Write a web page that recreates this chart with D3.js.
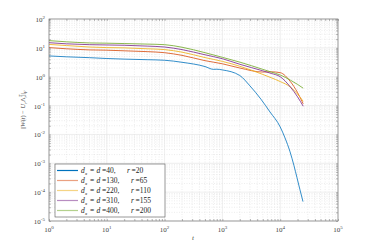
<!DOCTYPE html>
<html>
<head>
<meta charset="utf-8">
<script src="https://cdn.jsdelivr.net/npm/d3@7"></script>
<style>
  body { margin: 0; background: #fff; }
  svg text { font-family: "Liberation Serif", "DejaVu Serif", serif; }
</style>
</head>
<body>
<div id="chart"></div>
<script>
// time grid shared by the four upper curves
const tGrid = [1, 2, 5, 10, 20, 50, 100, 200, 500, 1000, 2000, 5000, 7000, 10000, 15000, 20000, 25000];
const errGreen  = [17.8, 16.2, 14.8, 14.5, 14.1, 13.5, 12.9, 10.5, 6.8, 4.7, 3.2, 1.8, 1.45, 1.15, 0.76, 0.54, 0.40];
const errPurple = [15.1, 13.8, 12.9, 12.6, 12.3, 11.5, 10.7, 8.7, 5.75, 4.2, 2.7, 1.6, 1.3, 1.0, 0.44, 0.20, 0.095];
const errYellow = [13.2, 12.0, 10.7, 10.2, 10.0, 9.3, 8.7, 7.1, 4.6, 3.4, 2.3, 1.2, 0.92, 0.68, 0.44, 0.25, 0.14];
const errOrange = [10.2, 9.3, 8.5, 8.3, 7.9, 7.4, 6.8, 5.5, 3.6, 2.8, 2.0, 1.45, 1.48, 1.38, 0.68, 0.28, 0.115];

// blue curve has its own time points
const tBlue   = [1, 2, 5, 10, 20, 50, 100, 200, 500, 700, 800, 1000, 2000, 3000, 4650, 6660, 10000, 12100, 14800, 17300, 19500, 22000, 24800];
const errBlue = [5.25, 4.9, 4.57, 4.27, 4.07, 3.89, 3.72, 3.16, 2.25, 1.8, 1.82, 1.72, 1.1, 0.48, 0.166, 0.060, 0.0182, 0.0076, 0.0025, 8.3e-4, 3.2e-4, 1.2e-4, 4.7e-5];

const dxVals = [40, 130, 220, 310, 400];
const rVals  = [20, 65, 110, 155, 200];
const colors = ["#0072BD", "#D95319", "#EDB120", "#7E2F8E", "#77AC30"];

const xTicks = [1, 10, 100, 1000, 10000, 100000];
const yTicks = [1e-5, 1e-4, 1e-3, 1e-2, 1e-1, 1, 10, 100];

const width = 374, height = 249;
const series = [
  { t: tBlue, v: errBlue },
  { t: tGrid, v: errOrange },
  { t: tGrid, v: errYellow },
  { t: tGrid, v: errPurple },
  { t: tGrid, v: errGreen }
];

const svg = d3.select("#chart").append("svg")
  .attr("width", width).attr("height", height);

const x = d3.scaleLog().domain([1, 1e5]).range([49, 338]);
const y = d3.scaleLog().domain([1e-5, 1e2]).range([221, 19]);

// minor values inside each decade
let minorX = [], minorY = [];
for (let e = 0; e < 5; e++) for (let k = 2; k < 10; k++) minorX.push(k * Math.pow(10, e));
for (let e = -5; e < 2; e++) for (let k = 2; k < 10; k++) minorY.push(k * Math.pow(10, e));

const grid = svg.append("g");
grid.selectAll(".mx").data(minorX).join("line")
  .attr("x1", d => x(d)).attr("x2", d => x(d)).attr("y1", 19).attr("y2", 221)
  .attr("stroke", "#dadada").attr("stroke-width", 0.5).attr("stroke-dasharray", "1,1.5");
grid.selectAll(".my").data(minorY).join("line")
  .attr("y1", d => y(d)).attr("y2", d => y(d)).attr("x1", 49).attr("x2", 338)
  .attr("stroke", "#dadada").attr("stroke-width", 0.5).attr("stroke-dasharray", "1,1.5");
grid.selectAll(".Mx").data(xTicks).join("line")
  .attr("x1", d => x(d)).attr("x2", d => x(d)).attr("y1", 19).attr("y2", 221)
  .attr("stroke", "#e2e2e2").attr("stroke-width", 0.6);
grid.selectAll(".My").data(yTicks).join("line")
  .attr("y1", d => y(d)).attr("y2", d => y(d)).attr("x1", 49).attr("x2", 338)
  .attr("stroke", "#e2e2e2").attr("stroke-width", 0.6);

// curves
const line = d3.line().x(d => x(d[0])).y(d => y(d[1])).curve(d3.curveMonotoneX);
series.forEach((s, i) => {
  svg.append("path")
    .datum(s.t.map((t, j) => [t, s.v[j]]))
    .attr("d", line)
    .attr("fill", "none")
    .attr("stroke", colors[i])
    .attr("stroke-opacity", i == 0 ? 0.8 : 0.85)
    .attr("stroke-width", 1);
});

// axes, MATLAB-like: inward ticks on all sides, no domain path
const axisCol = "#7a7a7a";
function styleAxis(g) {
  g.select(".domain").remove();
  g.selectAll("line").attr("stroke", axisCol).attr("stroke-width", 0.5);
  g.selectAll("text").remove();
}
svg.append("g").attr("transform", "translate(0,221)")
  .call(d3.axisBottom(x).tickValues(xTicks.concat(minorX)).tickSize(-2)).call(styleAxis);
svg.append("g").attr("transform", "translate(0,19)")
  .call(d3.axisTop(x).tickValues(xTicks.concat(minorX)).tickSize(-2)).call(styleAxis);
svg.append("g").attr("transform", "translate(49,0)")
  .call(d3.axisLeft(y).tickValues(yTicks.concat(minorY)).tickSize(-2)).call(styleAxis);
svg.append("g").attr("transform", "translate(338,0)")
  .call(d3.axisRight(y).tickValues(yTicks.concat(minorY)).tickSize(-2)).call(styleAxis);

svg.append("rect").attr("x", 49).attr("y", 19).attr("width", 289).attr("height", 202)
  .attr("fill", "none").attr("stroke", axisCol).attr("stroke-width", 0.7);

// tick labels 10^k
const exp = d => Math.round(Math.log10(d));
const xl = svg.append("g").selectAll("text").data(xTicks).join("text")
  .attr("x", d => x(d)).attr("y", 232)
  .attr("text-anchor", "middle").attr("font-size", 7).attr("fill", "#444");
xl.append("tspan").text("10");
xl.append("tspan").attr("font-size", 5).attr("dy", -3).text(d => exp(d));

const yl = svg.append("g").selectAll("text").data(yTicks).join("text")
  .attr("x", 45).attr("y", d => y(d) + 3)
  .attr("text-anchor", "end").attr("font-size", 7).attr("fill", "#444");
yl.append("tspan").text("10");
yl.append("tspan").attr("font-size", 5).attr("dy", -3).text(d => exp(d) < 0 ? "-" + (-exp(d)) : exp(d));

// axis labels
svg.append("text").attr("x", 193).attr("y", 240).attr("text-anchor", "middle")
  .attr("font-size", 7).attr("font-style", "italic").attr("fill", "#444").text("t");

const ylab = svg.append("text")
  .attr("transform", "translate(25,110) rotate(-90)")
  .attr("text-anchor", "middle").attr("font-size", 6.5).attr("fill", "#444");
ylab.append("tspan").text("||");
ylab.append("tspan").attr("font-style", "italic").text("W");
ylab.append("tspan").text("(");
ylab.append("tspan").attr("font-style", "italic").text("t");
ylab.append("tspan").text(") \u2212 ");
ylab.append("tspan").attr("font-style", "italic").text("U");
ylab.append("tspan").attr("font-style", "italic").attr("font-size", 4.5).attr("dy", 1.5).text("r");
ylab.append("tspan").attr("dy", -1.5).text("\u039B");
ylab.append("tspan").attr("font-style", "italic").attr("font-size", 4.5).attr("dy", -3).text("T");
ylab.append("tspan").attr("font-style", "italic").attr("font-size", 4.5).attr("dx", -2.5).attr("dy", 4.5).text("r");
ylab.append("tspan").attr("dy", -1.5).text("||");
ylab.append("tspan").attr("font-style", "italic").attr("font-size", 4.5).attr("dy", 1.5).text("F");

// legend
const leg = svg.append("g");
leg.append("rect").attr("x", 55).attr("y", 164).attr("width", 110).attr("height", 53)
  .attr("fill", "#fff").attr("stroke", "#555").attr("stroke-width", 0.6);
dxVals.forEach((dv, i) => {
  const ly = 170.5 + i * 10;
  const base = ly + 2.7;
  const wide = dv >= 100;
  leg.append("line").attr("x1", 57).attr("x2", 78).attr("y1", ly).attr("y2", ly)
    .attr("stroke", colors[i]).attr("stroke-width", 1.2)
    .attr("stroke-opacity", i == 0 ? 1 : 0.55);
  const put = (px, s, italic, size) => leg.append("text")
    .attr("x", px).attr("y", base).attr("font-size", size || 7.5)
    .attr("font-style", italic ? "italic" : null).attr("fill", "#222").text(s);
  put(81, "d", true);
  leg.append("text").attr("x", 85).attr("y", base + 1.5).attr("font-size", 5)
    .attr("font-style", "italic").attr("fill", "#222").text("x");
  put(90, "=");
  put(96.5, "d", true);
  put(102, "=" + dv + ",");
  put(wide ? 131 : 127, "r", true);
  put(wide ? 135.5 : 131.5, "=" + rVals[i]);
});
</script>
</body>
</html>
